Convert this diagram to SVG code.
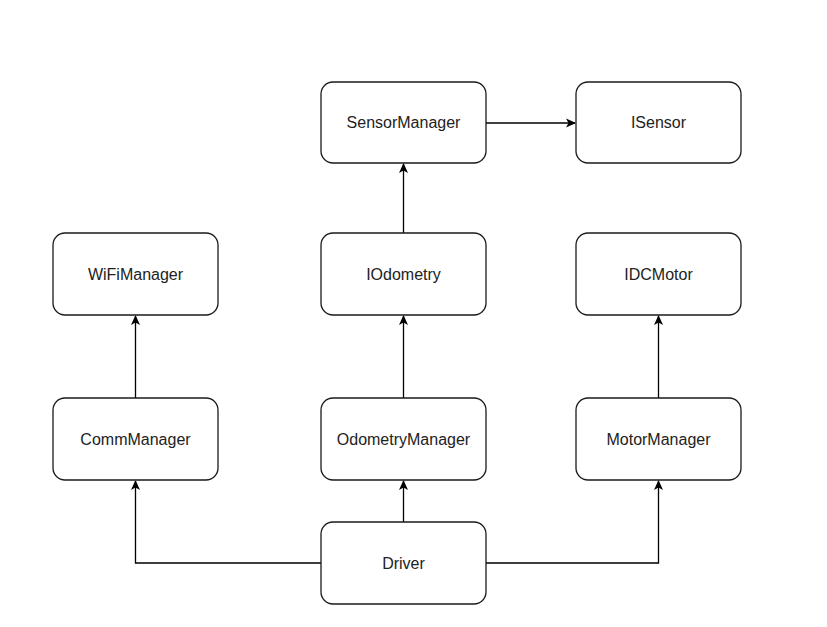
<svg xmlns="http://www.w3.org/2000/svg" width="827" height="627" viewBox="0 0 827 627">
<style>
.n rect{fill:#fff;stroke:#1a1a1a;stroke-width:1.3}
.n text{font-family:"Liberation Sans",Arial,sans-serif;font-size:16px;fill:#222;text-anchor:middle;dominant-baseline:central}
.c path{fill:none;stroke:#000;stroke-width:1.3}
</style>
<defs>
<marker id="a" viewBox="0 0 10 10" refX="9" refY="5" markerWidth="10" markerHeight="10" markerUnits="userSpaceOnUse" orient="auto">
<path d="M0,0.5 L10,5 L0,9.5 L2.5,5 Z" fill="#000"/>
</marker>
</defs>
<rect width="827" height="627" fill="#fff"/>
<g class="c">
<path d="M486,123 L575,123" marker-end="url(#a)"/>
<path d="M403.5,233 L403.5,164" marker-end="url(#a)"/>
<path d="M403.5,398 L403.5,316" marker-end="url(#a)"/>
<path d="M135.5,398 L135.5,316" marker-end="url(#a)"/>
<path d="M658.5,398 L658.5,316" marker-end="url(#a)"/>
<path d="M403.5,522 L403.5,481" marker-end="url(#a)"/>
<path d="M321,563 L135.5,563 L135.5,481" marker-end="url(#a)"/>
<path d="M486,563 L658.5,563 L658.5,481" marker-end="url(#a)"/>
</g>
<g class="n" id="SensorManager"><rect x="321" y="82" width="165" height="81" rx="12"/><text x="403.5" y="122.5">SensorManager</text></g>
<g class="n" id="ISensor"><rect x="576" y="82" width="165" height="81" rx="12"/><text x="658.5" y="122.5">ISensor</text></g>
<g class="n" id="WiFiManager"><rect x="53" y="233" width="165" height="82" rx="12"/><text x="135.5" y="274">WiFiManager</text></g>
<g class="n" id="IOdometry"><rect x="321" y="233" width="165" height="82" rx="12"/><text x="403.5" y="274">IOdometry</text></g>
<g class="n" id="IDCMotor"><rect x="576" y="233" width="165" height="82" rx="12"/><text x="658.5" y="274">IDCMotor</text></g>
<g class="n" id="CommManager"><rect x="53" y="398" width="165" height="82" rx="12"/><text x="135.5" y="439">CommManager</text></g>
<g class="n" id="OdometryManager"><rect x="321" y="398" width="165" height="82" rx="12"/><text x="403.5" y="439">OdometryManager</text></g>
<g class="n" id="MotorManager"><rect x="576" y="398" width="165" height="82" rx="12"/><text x="658.5" y="439">MotorManager</text></g>
<g class="n" id="Driver"><rect x="321" y="522" width="165" height="82" rx="12"/><text x="403.5" y="563">Driver</text></g>
</svg>
